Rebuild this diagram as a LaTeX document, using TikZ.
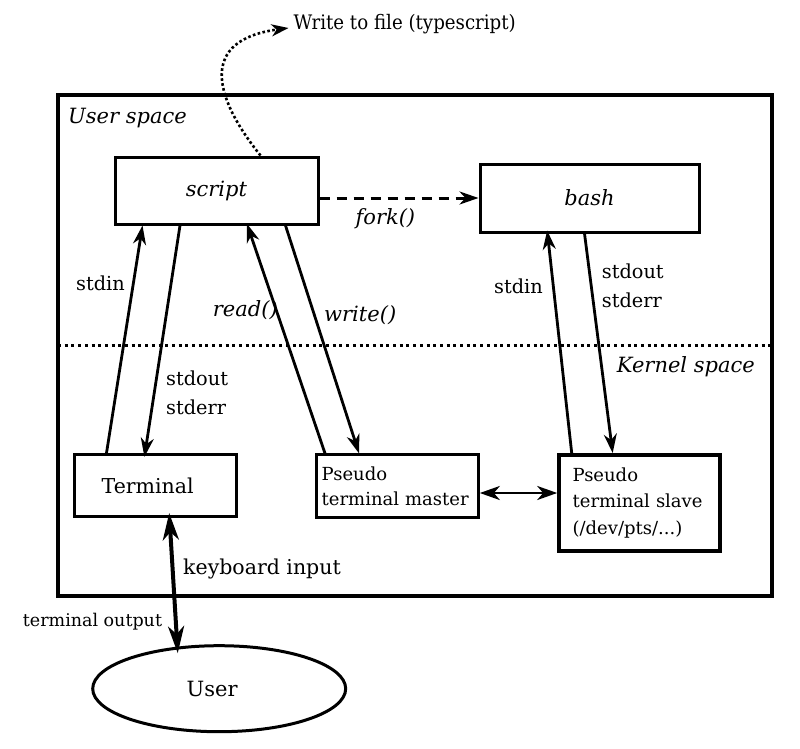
\documentclass[tikz,border=0pt]{standalone}
\usepackage{fontspec}
\setmainfont{DejaVu Serif}
\newfontfamily\condserif[FakeStretch=0.91]{DejaVu Serif}
\usepackage{tikz}
\usetikzlibrary{positioning,arrows.meta,shapes.geometric}

\begin{document}
\begin{tikzpicture}[x=1pt,y=-1pt,
    box/.style={draw, line width=3pt, inner sep=0pt},
    txt/.style={inner sep=0pt, font=\fontsize{19.3}{29}\selectfont},
    itxt/.style={inner sep=0pt, font=\fontsize{21}{25}\selectfont\itshape},
    conn/.style={line width=2.8pt, -{Stealth[length=19pt,width=13pt,inset=6pt]}},
    sep/.style={line width=3pt, dash pattern=on 3pt off 3.7pt}]
  \useasboundingbox (0,0) rectangle (800,749);

  % ---- User space / Kernel space frame ----
  \draw[line width=4.5pt] (58,95) rectangle (772,596);
  \draw[sep] (58,345.5) -- (772,345.5);
  \node[itxt, anchor=base west] (uspace) at (68,123.3) {User space};
  \node[itxt, anchor=base west] (kspace) at (616.7,372) {Kernel space};

  % ---- Processes ----
  \node[box, minimum width=203pt, minimum height=67pt, font=\fontsize{21}{25}\selectfont\itshape] (script) at (216.5,190.5) {script};
  \node[box, minimum width=219pt, minimum height=68pt, font=\fontsize{21}{25}\selectfont\itshape] (bash) at (589.5,198) {bash};

  % ---- Terminals ----
  \node[box, inner xsep=27.4pt, text width=107.6pt, align=left, minimum height=62pt,
        font=\fontsize{20.5}{25}\selectfont] (term) at (155.5,485.5) {Terminal};
  \node[box, inner xsep=5pt, text width=151.6pt, align=left, minimum height=62.3pt,
        font=\fontsize{18}{25}\selectfont] (master) at (397.5,486) {Pseudo\\terminal master};
  \node[box, line width=4pt, inner xsep=13.4pt, text width=134.2pt, align=left, minimum height=96pt,
        font=\fontsize{18}{26.6}\selectfont] (slave) at (639.7,503) {Pseudo\\terminal slave\\(/dev/pts/...)};

  % ---- User ----
  \node[ellipse, draw, line width=3pt, minimum width=253pt, minimum height=86pt,
        font=\fontsize{21}{25}\selectfont] (user) at (219.2,688.7) {User\hspace*{14pt}};

  % Write to file
  \node[inner sep=0pt, anchor=base west, font=\fontsize{20}{24}\condserif] (wfile) at (293.5,30) {Write to file (typescript)};
  \draw[line width=2.6pt, dash pattern=on 2.6pt off 2.4pt, -{Stealth[length=17pt,width=12pt,inset=5pt]}]
    ([xshift=44pt]script.north) .. controls (212,95) and (200,40) .. ([xshift=-5pt,yshift=2pt]wfile.base west);

  % fork
  \draw[conn, line width=3pt, dash pattern=on 10pt off 7pt] (script.east |- bash.west) -- (bash.west);
  \node[itxt, anchor=base west] (fork) at (355.4,224) {fork()};

  % script <-> Terminal
  \draw[conn] ([xshift=-49pt]term.north) -- ([xshift=-74pt]script.south);
  \draw[conn, shorten >=-4pt] ([xshift=-36.5pt]script.south) -- ([xshift=-10.5pt]term.north);
  \node[txt, anchor=base west] (instdL) at (76,290) {stdin};
  \node[txt, anchor=north west, align=left] (outstdL) at (166,370.5) {stdout\\stderr};

  % script <-> master
  \draw[conn, shorten >=-2pt] ([xshift=-72.5pt]master.north) -- ([xshift=31pt]script.south);
  \draw[conn] ([xshift=69pt]script.south) -- ([xshift=-38.5pt]master.north);
  \node[itxt, anchor=base west] (rd) at (212.7,316.7) {read()};
  \node[itxt, anchor=base west] (wr) at (324,321.7) {write()};

  % bash <-> slave
  \draw[conn, shorten >=-3pt] ([xshift=-68pt]slave.north) -- ([xshift=-42pt]bash.south);
  \draw[conn] ([xshift=-5pt]bash.south) -- ([xshift=-27pt]slave.north);
  \node[txt, anchor=base west] (instdR) at (494,293) {stdin};
  \node[txt, anchor=north west, align=left] (outstdR) at (601.7,263.5) {stdout\\stderr};

  % master <-> slave
  \draw[conn, {Stealth[length=20pt,width=14pt,inset=6pt]}-{Stealth[length=20pt,width=14pt,inset=6pt]}]
    ([yshift=-7pt]master.east) -- ([yshift=-7pt]master.east -| slave.west);

  % Terminal <-> User
  \draw[line width=4pt, {Stealth[length=27pt,width=16pt,inset=8pt]}-{Stealth[length=27pt,width=16pt,inset=8pt]},
        shorten <=-5pt, shorten >=-9pt]
    ([xshift=14pt]term.south) -- ([xshift=-42pt]user.north);
  \node[inner sep=0pt, anchor=base west, font=\fontsize{20.5}{25}\selectfont] (kbd) at (183,574) {keyboard input};
  \node[inner sep=0pt, anchor=base west, font=\fontsize{17.5}{21}\selectfont] (tout) at (22.7,626) {terminal output};
\end{tikzpicture}
\end{document}
